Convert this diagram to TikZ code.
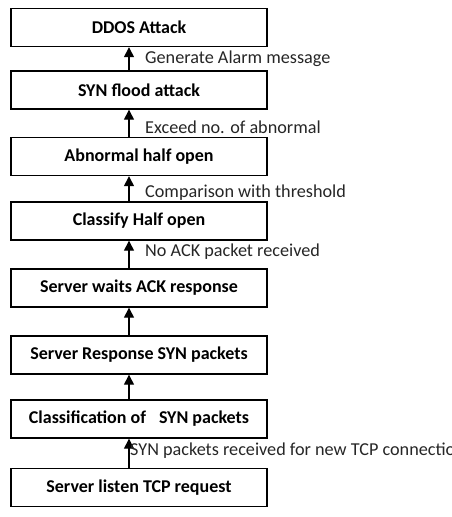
\documentclass[tikz,border=0pt]{standalone}
\usepackage{fontspec}
\setmainfont{Carlito}
\usetikzlibrary{arrows.meta}
\begin{document}
\begin{tikzpicture}[x=1pt,y=-1pt,
  box/.style={draw,line width=1.4pt,minimum width=256pt,minimum height=38pt,inner sep=0pt,font=\fontsize{18}{21}\selectfont\bfseries},
  arr/.style={line width=1.4pt,-{Triangle[length=10pt,width=10pt]}},
  lbl/.style={anchor=west,inner sep=0pt,font=\fontsize{18.2}{21}\selectfont,text=black!85}]
\clip (0,0) rectangle (451,517);
\node[box] (b1) at (139,27.5) {DDOS Attack};
\node[box] (b2) at (139,90) {SYN flood attack};
\node[box] (b3) at (139,156.5) {Abnormal half open};
\node[box] (b4) at (139,221) {Classify Half open};
\node[box] (b5) at (139,288) {Server waits ACK response};
\node[box] (b6) at (139,355) {Server Response SYN packets};
\node[box] (b7) at (139,419) {Classification of\hspace{13pt}SYN packets};
\node[box] (b8) at (139,487.5) {Server listen TCP request};
\draw[arr] ([xshift=-10pt]b2.north) -- ([xshift=-10pt]b1.south);
\draw[arr] ([xshift=-10pt]b3.north) -- ([xshift=-10pt]b2.south);
\draw[arr] ([xshift=-10pt]b4.north) -- ([xshift=-10pt]b3.south);
\draw[arr] ([xshift=-10pt]b5.north) -- ([xshift=-10pt]b4.south);
\draw[arr] ([xshift=-10pt]b6.north) -- ([xshift=-10pt]b5.south);
\draw[arr] ([xshift=-10pt]b7.north) -- ([xshift=-10pt]b6.south);
\draw[arr] ([xshift=-10pt]b8.north) -- ([xshift=-10pt]b7.south);
\node[lbl] (l1) at (145,59) {Generate Alarm message};
\node[lbl] (l2) at (145,127) {Exceed no. of abnormal};
\node[lbl] (l3) at (145,193) {Comparison with threshold};
\node[lbl] (l4) at (145,252) {No ACK packet received};
\node[lbl] (l5) at (130,451) {SYN packets received for new TCP connection};
\end{tikzpicture}
\end{document}
